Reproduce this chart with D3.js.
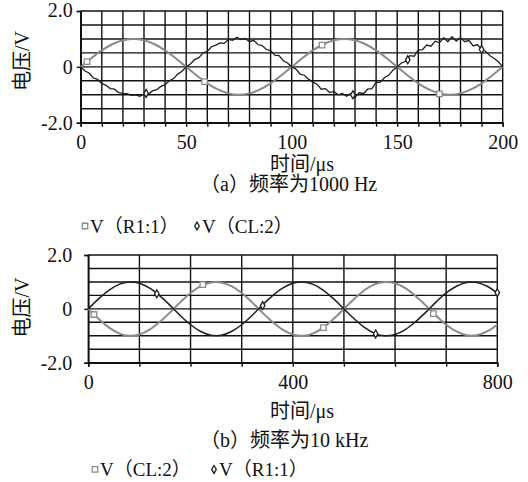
<!DOCTYPE html>
<html>
<head>
<meta charset="utf-8">
<script src="https://cdn.jsdelivr.net/npm/d3@7"></script>
<style>
  body { margin: 0; background: #fff; }
  text { font-family: "Liberation Serif", "Noto Sans CJK SC", serif; fill: #111; }
</style>
</head>
<body>
<div id="viz"></div>
<script>
// ---- panel (a): 1000 Hz ----
const timeA_R1 = d3.range(0, 201, 5)
const valA_R1 = [0, 0.31, 0.59, 0.81, 0.95, 1.0, 0.95, 0.81, 0.59, 0.31,
                 0, -0.31, -0.59, -0.81, -0.95, -1.0, -0.95, -0.81, -0.59, -0.31,
                 0, 0.31, 0.59, 0.81, 0.95, 1.0, 0.95, 0.81, 0.59, 0.31,
                 0, -0.31, -0.59, -0.81, -0.95, -1.0, -0.95, -0.81, -0.59, -0.31, 0]
const timeA_CL = d3.range(0, 201, 2)
const valA_CL = [0, -0.15, -0.22, -0.40, -0.45, -0.60, -0.66, -0.78, -0.80, -0.92,
                 -0.95, -0.96, -1.02, -1.00, -1.05, -0.97, -0.98, -0.86, -0.82, -0.70,
                 -0.64, -0.50, -0.42, -0.26, -0.16, 0.00, 0.10, 0.26, 0.33, 0.50,
                 0.55, 0.72, 0.78, 0.86, 0.84, 0.98, 0.95, 1.06, 0.98, 1.02,
                 0.90, 0.95, 0.80, 0.76, 0.62, 0.58, 0.42, 0.40, 0.22, 0.14,
                 0.00, -0.08, -0.26, -0.30, -0.44, -0.55, -0.62, -0.80, -0.78, -0.92,
                 -0.88, -1.00, -0.95, -1.05, -0.96, -1.10, -0.92, -0.96, -0.80, -0.78,
                 -0.56, -0.55, -0.38, -0.30, -0.12, 0.00, 0.14, 0.20, 0.40, 0.38,
                 0.60, 0.62, 0.78, 0.74, 0.92, 0.86, 1.04, 0.90, 1.08, 0.92,
                 1.05, 0.90, 0.95, 0.75, 0.80, 0.62, 0.55, 0.40, 0.30, 0.18, 0.00]
const markA_R1 = [[3, 0.19], [58.7, -0.53], [114.4, 0.78], [170, -0.97]]
const markA_CL = [[31, -0.95], [129, -1.0], [155, 0.25], [190, 0.62]]

// ---- panel (b): 10 kHz ----
const timeB = d3.range(0, 801, 20)
const valB_R1 = [0, 0.37, 0.69, 0.91, 1.0, 0.95, 0.77, 0.48, 0.13, -0.25,
                 -0.59, -0.84, -0.98, -0.98, -0.84, -0.59, -0.25, 0.13, 0.48, 0.77,
                 0.95, 1.0, 0.91, 0.69, 0.37, 0, -0.37, -0.69, -0.91, -1.0,
                 -0.95, -0.77, -0.48, -0.13, 0.25, 0.59, 0.84, 0.98, 0.98, 0.84, 0.59]
const valB_CL = [0, -0.37, -0.69, -0.91, -1.0, -0.95, -0.77, -0.48, -0.13, 0.25,
                 0.59, 0.84, 0.98, 0.98, 0.84, 0.59, 0.25, -0.13, -0.48, -0.77,
                 -0.95, -1.0, -0.91, -0.69, -0.37, 0, 0.37, 0.69, 0.91, 1.0,
                 0.95, 0.77, 0.48, 0.13, -0.25, -0.59, -0.84, -0.98, -0.98, -0.84, -0.59]
const markB_CL = [[11, -0.21], [224, 0.9], [460, -0.7], [675, -0.18]]
const markB_R1 = [[134, 0.56], [341, 0.12], [562, -0.93], [800, 0.6]]

const yTicks = [-2, 0, 2]
const yGrid = [-2, -1.5, -1, -0.5, 0, 0.5, 1, 1.5, 2]
const yTitle = '电压/V'
const xTitle = '时间/μs'

const grey = '#8a8a8a', dark = '#1e1e1e'

let svg = d3.select('#viz')
            .append('svg')
            .attr('width', 528)
            .attr('height', 482)
            .style('background', '#fff')

function panel(o) {
  let x = d3.scaleLinear().domain(o.xDomain).range([o.left, o.right])
  let y = d3.scaleLinear().domain([-2, 2]).range([o.bottom, o.top])
  let g = svg.append('g')

  // grid
  g.selectAll('.hg').data(yGrid).enter().append('line')
    .attr('x1', o.left).attr('x2', o.right)
    .attr('y1', d => y(d)).attr('y2', d => y(d))
    .style('stroke', '#111').style('stroke-width', 1.4)
  g.selectAll('.vg').data(o.xGrid).enter().append('line')
    .attr('x1', d => x(d)).attr('x2', d => x(d))
    .attr('y1', o.top).attr('y2', o.bottom)
    .style('stroke', '#111').style('stroke-width', 1.4)

  // axes
  let xAxis = g.append('g')
    .attr('transform', `translate(0,${o.bottom})`)
    .call(d3.axisBottom(x).tickValues(o.xGrid).tickSize(4)
      .tickFormat(d => o.xLabels.includes(d) ? d : ''))
  let yAxis = g.append('g')
    .attr('transform', `translate(${o.left},0)`)
    .call(d3.axisLeft(y).tickValues(yTicks).tickSize(4).tickPadding(o.yPad)
      .tickFormat(d => d === 0 ? '0' : d.toFixed(1)))
  ;[xAxis, yAxis].forEach(a => {
    a.select('.domain').style('stroke', '#111').style('stroke-width', 1.6)
    a.selectAll('.tick line').style('stroke', '#111').style('stroke-width', 1.4)
    a.selectAll('.tick text').style('font-size', '20px').style('font-family', '"Liberation Serif", serif').attr('fill', '#111')
  })
  xAxis.selectAll('.tick text').attr('dy', '0.95em')
  yAxis.selectAll('.tick text').attr('dy', d => d === 2 ? (0.33 - o.topShift) + 'em' : '0.33em')

  // series
  o.series.forEach(s => {
    let line = d3.line()
      .x((d, i) => x(s.t[i]))
      .y(d => y(d))
      .curve(s.curve)
    g.append('path').datum(s.v)
      .attr('d', line)
      .style('fill', 'none')
      .style('stroke', s.color)
      .style('stroke-width', s.width)
    g.selectAll(null).data(s.marks).enter().append('path')
      .attr('transform', d => `translate(${x(d[0])},${y(d[1])})`)
      .attr('d', d3.symbol().type(s.symbol).size(s.symbol === d3.symbolSquare ? 30 : 18))
      .style('fill', '#fff')
      .style('stroke', s.color)
      .style('stroke-width', 1.3)
  })

  // titles
  svg.append('text')
    .attr('transform', `translate(22,${o.yTitleY}) rotate(-90)`)
    .attr('text-anchor', 'middle').attr('dy', '0.35em')
    .style('font-size', '20px')
    .text(yTitle)
  svg.append('text')
    .attr('x', 302).attr('y', o.xTitleY).attr('dy', '0.35em')
    .attr('text-anchor', 'middle').style('font-size', '20px')
    .text(xTitle)
  svg.append('text')
    .attr('x', o.capX).attr('y', o.capY).attr('dy', '0.35em')
    .style('font-size', '20px')
    .text(o.caption)

  // legend
  let leg = svg.append('g')
  o.legend.forEach(l => {
    leg.append('path')
      .attr('transform', `translate(${l.x},${o.legY})`)
      .attr('d', d3.symbol().type(l.symbol).size(l.symbol === d3.symbolSquare ? 30 : 18))
      .style('fill', '#fff').style('stroke', l.color).style('stroke-width', 1.3)
    leg.append('text')
      .attr('x', l.x + 5).attr('y', o.legY).attr('dy', '0.35em')
      .style('font-size', '19px')
      .text(l.name)
  })
}

panel({
  left: 80.7, right: 502.7, top: 11, bottom: 122.7,
  xDomain: [0, 200], xGrid: d3.range(0, 201, 10), xLabels: [0, 50, 100, 150, 200],
  yPad: 4, topShift: 0.05, yTitleY: 61, xTitleY: 163.8, capX: 200, capY: 184,
  caption: '（a）频率为1000  Hz',
  series: [
    {t: timeA_R1, v: valA_R1, marks: markA_R1, color: grey, width: 2, curve: d3.curveCardinal, symbol: d3.symbolSquare},
    {t: timeA_CL, v: valA_CL, marks: markA_CL, color: dark, width: 1.3, curve: d3.curveLinear, symbol: d3.symbolDiamond}
  ],
  legY: 226,
  legend: [
    {x: 85, name: 'V（R1:1）', color: grey, symbol: d3.symbolSquare},
    {x: 197, name: 'V（CL:2）', color: dark, symbol: d3.symbolDiamond}
  ]
})

panel({
  left: 88.3, right: 497.3, top: 255, bottom: 362.7,
  xDomain: [0, 800], xGrid: d3.range(0, 801, 100), xLabels: [0, 400, 800],
  yPad: 12, topShift: 0, yTitleY: 307.5, xTitleY: 410.5, capX: 200, capY: 440,
  caption: '（b）频率为10  kHz',
  series: [
    {t: timeB, v: valB_CL, marks: markB_CL, color: grey, width: 2, curve: d3.curveCardinal, symbol: d3.symbolSquare},
    {t: timeB, v: valB_R1, marks: markB_R1, color: dark, width: 1.5, curve: d3.curveCardinal, symbol: d3.symbolDiamond}
  ],
  legY: 469.4,
  legend: [
    {x: 95, name: 'V（CL:2）', color: grey, symbol: d3.symbolSquare},
    {x: 214, name: 'V（R1:1）', color: dark, symbol: d3.symbolDiamond}
  ]
})
</script>
</body>
</html>
